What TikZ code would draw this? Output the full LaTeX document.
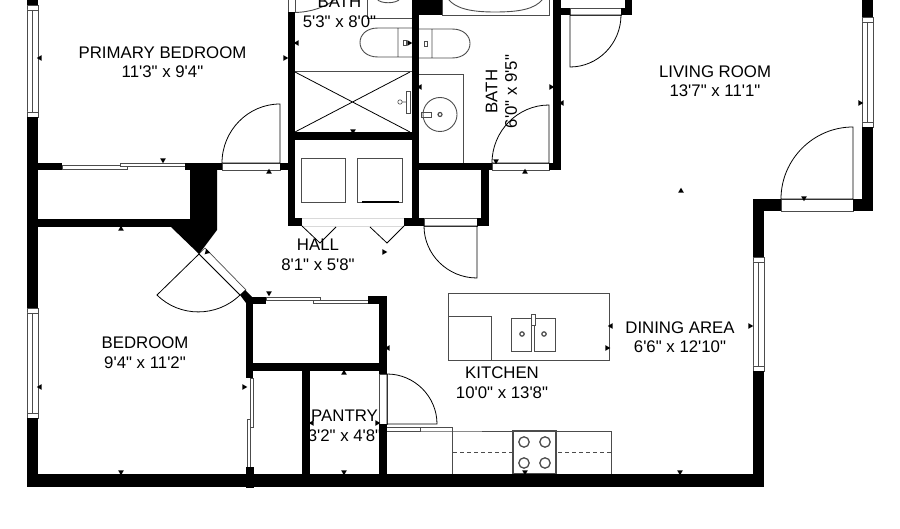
\documentclass[tikz,border=0pt]{standalone}
\usepackage{fontspec}
\usepackage{xcolor}
\usetikzlibrary{shapes.geometric, calc}
\newfontfamily\planfont{Liberation Sans}
\definecolor{fixgray}{gray}{0.3}
\tikzset{
    wall/.style={fill=black, draw=none},
    fixture/.style={draw=fixgray, line width=0.9pt},
    thinline/.style={draw=black, line width=0.8pt},
    sill/.style={draw=fixgray, line width=0.7pt, fill=white},
    roomlabel/.style={font=\planfont\fontsize{16.8}{19.5}\selectfont, align=center, text=black, inner sep=0pt},
    tickmark/.style={regular polygon, regular polygon sides=3, fill=black, inner sep=0pt, minimum size=6.5pt}
}
% door leaf and swing: hinge, leaf end, closed end
\newcommand{\doorswing}[3]{\draw[thinline] (#3) -- (#1) -- (#2) .. controls ($(#2)+.55*(#3)-.55*(#1)$) and ($(#3)+.55*(#2)-.55*(#1)$) .. (#3);}
\begin{document}
\begin{tikzpicture}[x=1pt, y=-1pt]
    \useasboundingbox (0,0) rectangle (900,529);

    % windows
    \foreach \xa/\xb/\ya/\yb in {27/38/5/117, 27/38/308/418, 862/873/17/127, 753/764/257/371} {
        \draw[sill] (\xa,\ya) rectangle (\xb,\yb);
        \draw[sill] ($(\xa,\ya)+(0,5)$) -- ($(\xb,\ya)+(0,5)$);
        \draw[sill] ($(\xa,\yb)+(0,-5)$) -- ($(\xb,\yb)+(0,-5)$);
        \draw[sill] ($(\xa,\ya)!.5!(\xb,\ya)+(0,5)$) -- ($(\xa,\yb)!.5!(\xb,\yb)+(0,-5)$);
    }

    % door sills and sliding panels
    \foreach \xa/\ya/\xb/\yb in {222/163/280/170, 492/163/549/170, 781/199/853/211, 570/8/621/15, 424/218/477/226, 379/374/387/424, 288/-5/295/12,
                                 62/165/127/169, 120/163/185/166, 266/297/320/300, 313/300/368/303, 250/378/253/427, 247/419/250/467} {
        \draw[sill] (\xa,\ya) rectangle (\xb,\yb);
    }
    \draw[sill] (199,254) -- (205,248) -- (246,290) -- (240,295) -- cycle;
    \draw[draw=black!15] (302,218) -- (404,218) (302,226.5) -- (404,226.5);

    % bath fixtures
    \draw[fixture] (442,-2) rectangle (549,15);
    \draw[fixture] (448,-1) .. controls (456,9) and (472,12) .. (495,12) .. controls (520,12) and (535,9) .. (543,-1);
    \draw[fixture] (367,-1) -- (367,18.5) -- (412,18.5);
    \draw[fixture] (377,-1) .. controls (380,4) and (396,4) .. (400,-1);
    \draw[fixture] (295,12.5) .. controls (312,12) and (325,7) .. (336,-1);
    \draw[fixture] (412,28) -- (378,28) .. controls (354,28) and (354,57) .. (378,57) -- (412,57) (398,28) -- (398,57);
    \draw[fixture, line width=0.6pt] (403.5,40) rectangle (406,45);
    \draw[fixture] (419,29) -- (452,29) .. controls (476,29) and (476,58) .. (452,58) -- (419,58) (432,29) -- (432,58);
    \draw[fixture, line width=0.6pt] (424.5,41) rectangle (427,46);
    \draw[fixture] (295,71.5) -- (412,71.5);
    \draw[thinline] (295,72) -- (410,132) (295,132) -- (410,72);
    \draw[fixture, line width=0.6pt] (406,91) rectangle (410,113);
    \draw[fixture, line width=0.6pt] (400,102) circle (2.2) (402,102) -- (406,102);
    \draw[fixture] (419,74.5) -- (463,74.5) -- (463,163);
    \draw[fixture] (440,114.5) circle (17);
    \draw[fixture, line width=1.2pt] (440,114.5) circle (2);
    \draw[fixture, line width=0.6pt] (421,112.5) rectangle (431,117);

    % laundry
    \draw[fixture] (301,158) rectangle (345,202);
    \draw[fixture] (357,158.5) rectangle (402,202);
    \draw[black, line width=1.1pt] (362,202) -- (399,202);
    \draw[thinline] (302,226) -- (320,243) -- (336,227);
    \draw[thinline] (370,227) -- (387,243) -- (404,226);

    % kitchen island
    \draw[fixture] (448,293) rectangle (609,360);
    \draw[fixture] (448,316) rectangle (491,360);
    \draw[fixture] (511,318) rectangle (531,351);
    \draw[fixture] (534,318) rectangle (555,351);
    \draw[fixture, line width=0.6pt, fill=white] (531,314) rectangle (535,325);
    \draw[fixture, line width=1.2pt] (522,334) circle (2.2) (544,334) circle (2.2);

    % kitchen counter and range
    \draw[fixture] (387,427) -- (452,427) -- (452,474) (387,431) -- (420,431) -- (420,427);
    \draw[fixture] (420,431) -- (452,431) -- (513,431) (556,431) -- (611,431) -- (611,474);
    \draw[fixture, dashed, dash pattern=on 4pt off 3pt] (453,452.5) -- (611,452.5);
    \draw[fixture, line width=1.2pt, fill=white] (513,431) rectangle (556,474);
    \foreach \x/\y in {524/442, 545/442, 524/463, 545/463} {
        \draw[fixture, line width=1.3pt] (\x,\y) circle (5.2);
    }

    % walls
    \fill[wall] (27,-5) rectangle (38,5);
    \fill[wall] (27,117) rectangle (38,308);
    \fill[wall] (27,418) rectangle (38,487);
    \fill[wall] (27,474) rectangle (764,487);
    \fill[wall] (753,371) rectangle (764,487);
    \fill[wall] (753,199) rectangle (764,257);
    \fill[wall] (753,199) rectangle (781,211);
    \fill[wall] (853,199) rectangle (873,211);
    \fill[wall] (862,127) rectangle (873,211);
    \fill[wall] (862,-5) rectangle (873,17);
    \fill[wall] (38,163) rectangle (62,170);
    \fill[wall] (185,163) rectangle (222,170);
    \fill[wall] (280,163) rectangle (288,170);
    \fill[wall] (38,219) rectangle (190,227);
    \fill[wall] (190,170) -- (217,170) -- (217,230) -- (199,254) -- (171,227) -- (190,227) -- cycle;
    \fill[wall] (240,295) -- (245,290) -- (252,297) -- (246,303) -- cycle;
    \fill[wall] (246,297) rectangle (266,304);
    \fill[wall] (246,297) rectangle (253,378);
    \fill[wall] (246,467) rectangle (254,488);
    \fill[wall] (253,363) rectangle (387,371);
    \fill[wall] (368,296) rectangle (387,304);
    \fill[wall] (379,296) rectangle (387,374);
    \fill[wall] (379,424) rectangle (387,474);
    \fill[wall] (302,371) rectangle (310,474);
    \fill[wall] (288,12) rectangle (295,226);
    \fill[wall] (288,218) rectangle (302,226);
    \fill[wall] (295,132) rectangle (412,140);
    \fill[wall] (412,-5) rectangle (419,226);
    \fill[wall] (412,-5) rectangle (442,15);
    \fill[wall] (404,218) rectangle (424,226);
    \fill[wall] (477,218) rectangle (489,226);
    \fill[wall] (481,170) rectangle (489,226);
    \fill[wall] (412,163) rectangle (492,170);
    \fill[wall] (549,163) rectangle (561,170);
    \fill[wall] (553,-5) rectangle (561,170);
    \fill[wall] (561,8) rectangle (570,15);
    \fill[wall] (621,8) rectangle (632,15);
    \fill[wall] (625,-5) rectangle (632,15);

    % doors
    \doorswing{280,163}{280,104}{222,163}
    \doorswing{549,163}{549,105}{492,163}
    \doorswing{853,199}{853,127}{781,199}
    \doorswing{570,15}{570,67}{621,15}
    \doorswing{477,226}{477,278}{424,226}
    \doorswing{199,254}{157,295}{240,295}
    \doorswing{387,424}{437,424}{387,374}

    % dimension marks: 0 up, 90 left, 180 down, 270 right
    \foreach \x/\y/\a [count=\i] in {40/58/90, 285/58/270, 297/43/90, 409/43/270, 420/87/90, 551/87/270, 562/103/90, 860/103/270,
                                     163/160/180, 269/172/0, 121/229/0, 207/252/135, 353/131/180, 496/161/180, 525/172/0, 384/252/270,
                                     40/387/90, 244/387/270, 121/472/180, 269/293/180, 388/348/90, 344/373/0, 312/423/90, 377/423/270,
                                     344/472/180, 525/472/180, 611/326/90, 607/348/270, 681/191/0, 804/198/180, 680/472/180, 750/326/270} {
        \node[tickmark, shape border rotate=\a] (mark\i) at (\x,\y) {};
    }

    % room labels
    \node[roomlabel] (primary) at (162.5,62) {PRIMARY BEDROOM\\11'3" x 9'4"};
    \node[roomlabel] (bathone) at (339.5,12) {BATH\\5'3" x 8'0"};
    \node[roomlabel, rotate=90] (bathtwo) at (501.5,91.5) {BATH\\6'0" x 9'5"};
    \node[roomlabel] (hall) at (318,255) {HALL\\8'1" x 5'8"};
    \node[roomlabel] (bedroom) at (145,352.5) {BEDROOM\\9'4" x 11'2"};
    \node[roomlabel] (pantry) at (344.5,426) {PANTRY\\3'2" x 4'8"};
    \node[roomlabel] (kitchen) at (502,382.5) {KITCHEN\\10'0" x 13'8"};
    \node[roomlabel] (dining) at (680,337) {DINING AREA\\6'6" x 12'10"};
    \node[roomlabel] (living) at (715,81) {LIVING ROOM\\13'7" x 11'1"};
\end{tikzpicture}
\end{document}
